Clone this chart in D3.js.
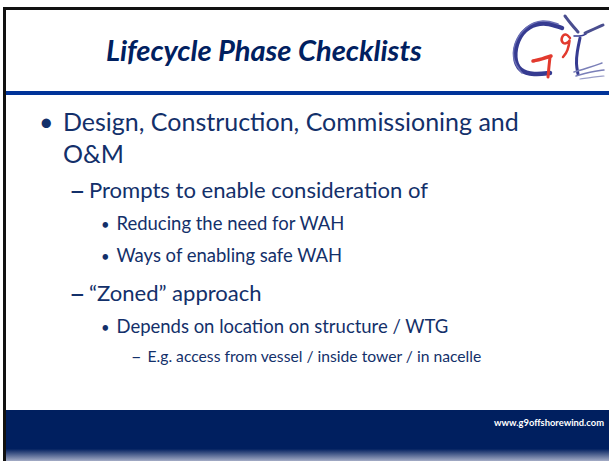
<!DOCTYPE html>
<html>
<head>
<meta charset="utf-8">
<script src="https://cdn.jsdelivr.net/npm/d3@7"></script>
<style>
  body { margin:0; background:#fff; }
  svg { display:block; }
</style>
</head>
<body>
<div id="canvas"></div>
<script>
// slide content
var titleText = 'Lifecycle Phase Checklists';
var footerText = 'www.g9offshorewind.com';
var bulletLevels = [0, 0, 1, 2, 2, 1, 2, 3];
var bulletMarks = ['\u2022', '', '\u2013', '\u2022', '\u2022', '\u2013', '\u2022', '\u2013'];
var bulletTexts = [
    'Design, Construction, Commissioning and',
    'O&M',
    'Prompts to enable consideration of',
    'Reducing the need for WAH',
    'Ways of enabling safe WAH',
    '\u201CZoned\u201D approach',
    'Depends on location on structure / WTG',
    'E.g. access from vessel / inside tower / in nacelle'
];

var W = 609, H = 461;
var font = 'Lato, "Open Sans", sans-serif';
var navy = '#002060', textCol = '#13306a';

// per level: mark x, text x, advance, width of the fitting line
var lv = [
    {mx:39, tx:63, adv:32, fit:0, w:456, mSize:1.0, mdy:0},
    {mx:69, tx:89, adv:35, fit:2, w:339, mSize:1.3, mdy:2.5},
    {mx:101, tx:116.5, adv:32, fit:6, w:332, mSize:0.8, mdy:0},
    {mx:131, tx:147.5, adv:29, fit:7, w:334, mSize:1.15, mdy:1}
];

var svg = d3.select('#canvas').append('svg')
    .attr('width', W).attr('height', H);

// fit font size so a line spans the wanted width
function fitSize(sel, base, target){
    sel.style('font-size', base + 'px');
    var len = sel.node().getComputedTextLength();
    var s = base * target / len;
    sel.style('font-size', s + 'px');
    return s;
}

// frame
svg.append('rect').attr('x', 3).attr('y', 7).attr('width', W - 3).attr('height', 3).attr('fill', '#111');
svg.append('rect').attr('x', 3).attr('y', 7).attr('width', 3).attr('height', H - 7).attr('fill', '#111');

// rule under title
svg.append('rect').attr('x', 6).attr('y', 91).attr('width', W - 6).attr('height', 4).attr('fill', '#003399');

// footer band
var defs = svg.append('defs');
var grad = defs.append('linearGradient').attr('id', 'foot').attr('x1', 0).attr('y1', 0).attr('x2', 0).attr('y2', 1);
grad.append('stop').attr('offset', '0').attr('stop-color', '#001f5f');
grad.append('stop').attr('offset', '0.76').attr('stop-color', '#001f5f');
grad.append('stop').attr('offset', '0.82').attr('stop-color', '#2a4278');
grad.append('stop').attr('offset', '1').attr('stop-color', '#a4acc6');
svg.append('rect').attr('x', 6).attr('y', 410).attr('width', W - 6).attr('height', H - 410).attr('fill', 'url(#foot)');

var foot = svg.append('text')
    .attr('x', 604).attr('y', 426)
    .attr('text-anchor', 'end')
    .style('font-family', font).style('font-weight', 700)
    .style('fill', '#fff')
    .text(footerText);
fitSize(foot, 9, 110);

// title
var title = svg.append('text')
    .attr('x', 106).attr('y', 61)
    .style('font-family', font).style('font-weight', 700).style('font-style', 'italic')
    .style('fill', navy)
    .text(titleText);
fitSize(title, 26, 316);

// bullets
var sizes = lv.map(function(l){
    var t = svg.append('text').style('font-family', font).text(bulletTexts[l.fit]);
    var s = fitSize(t, 20, l.w);
    t.remove();
    return s;
});

var y = 131, rows = [];
bulletTexts.forEach(function(t, i){
    var l = bulletLevels[i];
    if(i > 0){
        var p = bulletLevels[i - 1];
        y += lv[l].adv + (l < p ? 4 : 0);
    }
    rows.push({text:t, level:l, mark:bulletMarks[i], y:y});
});

var g = svg.append('g').attr('class', 'bullets');
var row = g.selectAll('.row').data(rows).enter().append('g').attr('class', 'row');

row.append('text')
    .attr('x', function(d){ return lv[d.level].mx; })
    .attr('y', function(d){ return d.y + lv[d.level].mdy; })
    .style('font-family', font)
    .style('font-size', function(d){ return sizes[d.level] * lv[d.level].mSize + 'px'; })
    .style('fill', textCol)
    .text(function(d){ return d.mark; });

row.append('text')
    .attr('x', function(d){ return lv[d.level].tx; })
    .attr('y', function(d){ return d.y; })
    .style('font-family', font)
    .style('font-size', function(d){ return sizes[d.level] + 'px'; })
    .style('fill', textCol)
    .text(function(d){ return d.text; });

// logo, rough sketch of the G9 mark
var logo = svg.append('g').attr('class', 'logo').attr('fill', 'none').attr('stroke-linecap', 'round');
var line = d3.line().curve(d3.curveBasis);
var blue = '#363b91', red = '#e23a2e';
logo.append('path')
    .attr('d', line([[562,28],[546,22],[528,26],[517,40],[514,58],[519,71],[534,75],[550,73]]))
    .attr('stroke', blue).attr('stroke-width', 4.5);
logo.append('path')
    .attr('d', line([[558,24],[543,19],[525,26],[513,44],[513,62],[522,73]]))
    .attr('stroke', '#6b6fb5').attr('stroke-width', 1.5);
logo.append('path')
    .attr('d', line([[533,61],[542,59],[551,56]]))
    .attr('stroke', red).attr('stroke-width', 3.5);
logo.append('path')
    .attr('d', line([[550,57],[549,66],[548,77]]))
    .attr('stroke', red).attr('stroke-width', 3);
logo.append('path')
    .attr('d', line([[570,38],[566,33],[561,37],[562,44],[569,43],[570,38],[568,51],[563,57]]))
    .attr('stroke', red).attr('stroke-width', 2.5);
logo.append('path')
    .attr('d', line([[580,38],[577,52],[576,64],[578,74]]))
    .attr('stroke', blue).attr('stroke-width', 3);
logo.append('path')
    .attr('d', line([[574,36],[582,36],[586,34]]))
    .attr('stroke', blue).attr('stroke-width', 1.5);
logo.append('path')
    .attr('d', line([[565,16],[571,24],[578,32]]))
    .attr('stroke', '#4a4e8f').attr('stroke-width', 3);
logo.append('path')
    .attr('d', line([[585,33],[594,29],[603,25]]))
    .attr('stroke', '#4a4e8f').attr('stroke-width', 3);
logo.append('path')
    .attr('d', line([[574,72],[588,68],[602,63]]))
    .attr('stroke', '#7a7fb8').attr('stroke-width', 1.5);
logo.append('path')
    .attr('d', line([[576,76],[590,72],[604,70]]))
    .attr('stroke', '#7a7fb8').attr('stroke-width', 1.5);
logo.append('path')
    .attr('d', line([[580,79],[594,77],[604,76]]))
    .attr('stroke', '#9a9ec8').attr('stroke-width', 1.2);
</script>
</body>
</html>
